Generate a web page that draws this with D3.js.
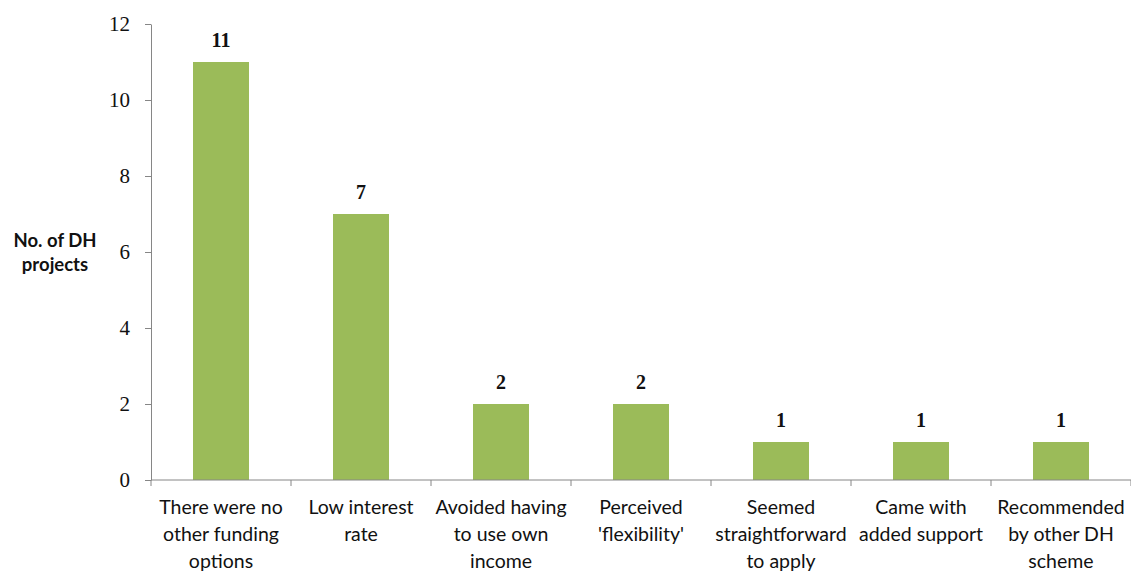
<!DOCTYPE html>
<html><head><meta charset="utf-8">
<script src="https://cdn.jsdelivr.net/npm/d3@7"></script>
<style>body{margin:0;background:#fff}svg{display:block}</style>
</head><body>
<svg id="c" width="1131" height="572"></svg>
<script>
const categories = [
  ["There were no","other funding","options"],
  ["Low interest","rate"],
  ["Avoided having","to use own","income"],
  ["Perceived","'flexibility'"],
  ["Seemed","straightforward","to apply"],
  ["Came with","added support"],
  ["Recommended","by other DH","scheme"]
];
const values = [11, 7, 2, 2, 1, 1, 1];
const yTicks = [0, 2, 4, 6, 8, 10, 12];
const yTitle = ["No. of DH", "projects"];

(function(){
const svg = d3.select("#c");
const mLeft = 151, mRight = 1131, mTop = 24, mBottom = 480;
const serif = "'Liberation Serif', 'DejaVu Serif', serif";
const sans = "Lato, 'Open Sans', sans-serif";
const x = d3.scaleBand().domain(d3.range(values.length)).range([mLeft, mRight]).paddingInner(0.6).paddingOuter(0.3);
const y = d3.scaleLinear().domain([0, 12]).range([mBottom, mTop]);
const axisColor = "#868686";

svg.selectAll("rect.bar").data(values).enter().append("rect")
  .attr("x", (d,i) => x(i)).attr("width", x.bandwidth())
  .attr("y", d => y(d)).attr("height", d => y(0) - y(d))
  .attr("fill", "#9BBB59");

const ya = svg.append("g").attr("transform", `translate(${mLeft},0)`)
  .call(d3.axisLeft(y).tickValues(yTicks).tickSize(6).tickSizeOuter(0).tickPadding(15));
ya.select(".domain").attr("stroke", axisColor);
ya.selectAll(".tick line").attr("stroke", axisColor);
ya.selectAll(".tick text").style("font-size", "21px").style("font-family", serif).attr("fill", "#111");

const step = x.step();
const boundaries = d3.range(values.length + 1).map(i => mLeft + i * step);
const xg = svg.append("g");
xg.append("line").attr("x1", mLeft).attr("x2", mRight).attr("y1", mBottom).attr("y2", mBottom).attr("stroke", axisColor);
xg.selectAll("line.t").data(boundaries).enter().append("line")
  .attr("x1", d => d).attr("x2", d => d).attr("y1", mBottom).attr("y2", mBottom + 6).attr("stroke", axisColor);

categories.forEach((lines, i) => {
  const cx = x(i) + x.bandwidth() / 2;
  const t = svg.append("text").attr("text-anchor", "middle")
    .style("font-size", "19.5px").style("font-family", sans).attr("fill", "#111");
  lines.forEach((ln, j) => t.append("tspan").attr("x", cx).attr("y", 514 + j * 27).text(ln));
});

svg.selectAll("text.val").data(values).enter().append("text")
  .attr("x", (d,i) => x(i) + x.bandwidth()/2).attr("y", d => y(d) - 15)
  .attr("text-anchor", "middle").style("font-size", "20px").style("font-weight", "bold")
  .style("font-family", serif).attr("fill", "#111")
  .text(d => d);

const yt = svg.append("text").attr("text-anchor", "middle")
  .style("font-size", "18.5px").style("font-weight", "bold").style("font-family", sans).attr("fill", "#111");
yTitle.forEach((ln, j) => yt.append("tspan").attr("x", 55).attr("y", 247 + j * 24).text(ln));
})();
</script>
</body></html>
